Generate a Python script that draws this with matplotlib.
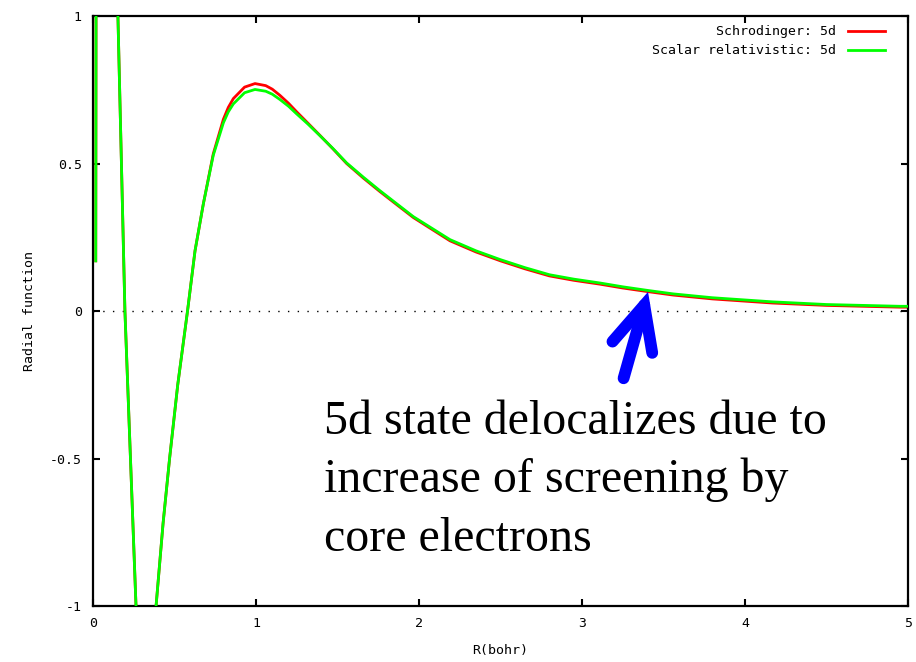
import numpy as np
import matplotlib
matplotlib.use("Agg")
from matplotlib import pyplot as plt

# radial grid (bohr)
r = [0.017, 0.022, 0.05, 0.09, 0.13, 0.153, 0.175, 0.196, 0.23, 0.264,
     0.30, 0.33, 0.36, 0.387, 0.43, 0.47, 0.52, 0.58, 0.626, 0.677,
     0.738, 0.80, 0.83, 0.861, 0.93, 0.994, 1.06, 1.10, 1.147, 1.20,
     1.25, 1.32, 1.393, 1.47, 1.556, 1.66, 1.76, 1.86, 1.965, 2.19,
     2.35, 2.50, 2.65, 2.80, 2.95, 3.11, 3.25, 3.40, 3.56, 3.80,
     4.17, 4.50, 4.95, 5.0]

schrodinger = [0.17, 2.6, 5.0, 4.0, 1.6, 1.0, 0.49, 0.0, -0.5, -1.0,
               -1.45, -1.55, -1.35, -1.0, -0.72, -0.5, -0.25, 0.0, 0.204, 0.363,
               0.533, 0.650, 0.690, 0.720, 0.759, 0.771, 0.764, 0.752, 0.731, 0.704,
               0.675, 0.636, 0.595, 0.551, 0.500, 0.450, 0.405, 0.362, 0.317, 0.238,
               0.200, 0.170, 0.143, 0.119, 0.104, 0.091, 0.078, 0.066, 0.054, 0.041,
               0.027, 0.019, 0.013, 0.013]

scalar_rel = [0.17, 2.6, 5.0, 4.0, 1.6, 1.0, 0.49, 0.0, -0.5, -1.0,
              -1.45, -1.55, -1.35, -1.0, -0.72, -0.5, -0.25, 0.0, 0.204, 0.363,
              0.528, 0.638, 0.675, 0.702, 0.740, 0.751, 0.745, 0.735, 0.717, 0.694,
              0.668, 0.633, 0.594, 0.552, 0.502, 0.453, 0.408, 0.365, 0.320, 0.242,
              0.204, 0.174, 0.147, 0.123, 0.108, 0.095, 0.082, 0.070, 0.058, 0.045,
              0.031, 0.022, 0.016, 0.016]

xticks = [0, 1, 2, 3, 4, 5]
yticks = [-1, -0.5, 0, 0.5, 1]
ytick_labels = ["-1", "-0.5", "0", "0.5", "1"]

note = "5d state delocalizes due to\nincrease of screening by\ncore electrons"

mono = "DejaVu Sans Mono"

fig = plt.figure(figsize=(9.16, 6.62), dpi=100)
ax = fig.add_axes([0.1015, 0.0846, 0.8898, 0.8912])

ax.axhline(0, color="black", lw=1.0, ls=(0, (1, 6)), zorder=1)
ax.plot(r, schrodinger, color="#ff0000", lw=2.0, label="Schrodinger: 5d", zorder=2)
ax.plot(r, scalar_rel, color="#00ff00", lw=2.0, label="Scalar relativistic: 5d", zorder=3)

ax.set_xlim(0, 5)
ax.set_ylim(-1, 1)
ax.set_xticks(xticks)
ax.set_xticklabels([str(t) for t in xticks], fontfamily=mono, fontsize=9.5)
ax.set_yticks(yticks)
ax.set_yticklabels(ytick_labels, fontfamily=mono, fontsize=9.5)
ax.tick_params(direction="in", length=5, width=1.5, top=True, right=True, pad=8)
for s in ax.spines.values():
    s.set_linewidth(1.6)

ax.set_xlabel("R(bohr)", fontfamily=mono, fontsize=9.5, labelpad=10)
ax.set_ylabel("Radial function", fontfamily=mono, fontsize=9.5, labelpad=10)

leg = ax.legend(loc="upper right", bbox_to_anchor=(0.983, 1.0), frameon=False,
                markerfirst=False, prop={"family": mono, "size": 9.5},
                handlelength=2.8, handletextpad=0.9, labelspacing=0.45,
                borderaxespad=0.3)

ax.annotate("", xy=(3.405, 0.065), xytext=(3.255, -0.228),
            arrowprops=dict(arrowstyle="->,head_length=1.8,head_width=0.85",
                            color="#0000ff", lw=8.5, mutation_scale=17.5,
                            shrinkA=0, shrinkB=0, capstyle="round",
                            joinstyle="miter"))

ax.text(1.42, -0.30, note, fontfamily="Liberation Serif", fontsize=34.5,
        ha="left", va="top", linespacing=1.42)

fig.savefig("out.png", dpi=100)
